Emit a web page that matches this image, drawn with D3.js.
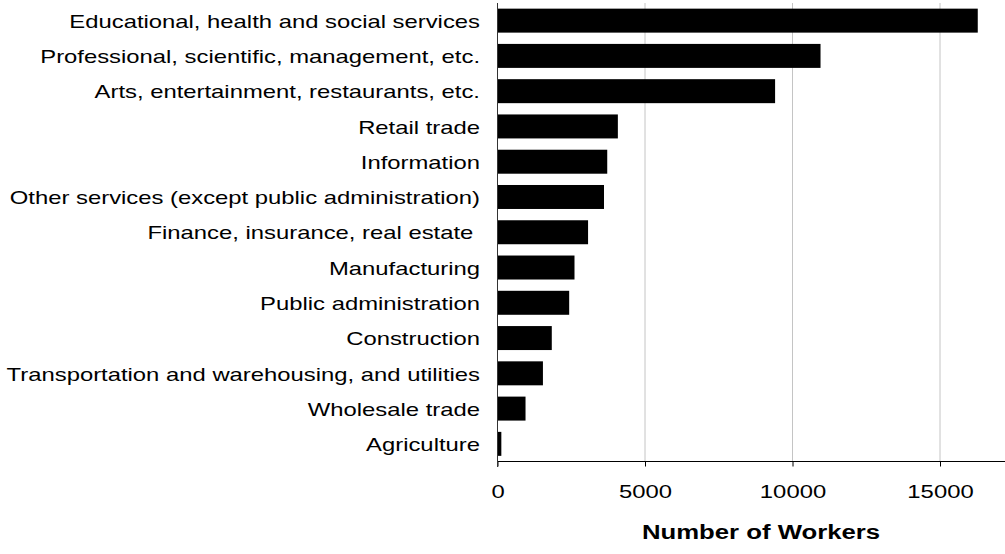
<!DOCTYPE html>
<html>
<head>
<meta charset="utf-8">
<script src="https://cdn.jsdelivr.net/npm/d3@7"></script>
<style>
  html, body { margin: 0; padding: 0; background: #fff; }
  svg { display: block; }
  text { font-family: "Liberation Sans", Arial, sans-serif; fill: #000; white-space: pre; }
</style>
</head>
<body>
<script>
// Workers by industry
const industries = [
  "Educational, health and social services",
  "Professional, scientific, management, etc.",
  "Arts, entertainment, restaurants, etc.",
  "Retail trade",
  "Information",
  "Other services (except public administration)",
  "Finance, insurance, real estate ",
  "Manufacturing",
  "Public administration",
  "Construction",
  "Transportation and warehousing, and utilities",
  "Wholesale trade",
  "Agriculture"
];
const workers = [16280, 10950, 9410, 4080, 3720, 3610, 3070, 2610, 2430, 1840, 1540, 950, 130];
const xTicks = [0, 5000, 10000, 15000];
const xTitle = "Number of Workers";

const W = 1005, H = 554;
const plotLeft = 497.5, plotTop = 3, plotBottom = 461.5;
const stretch = 1.255; // horizontal text widening

const svg = d3.select("body").append("svg")
  .attr("width", W).attr("height", H);

const x = d3.scaleLinear().domain([0, 17000]).range([plotLeft, 999]);
const y = d3.scaleBand().domain(industries).range([plotTop, plotBottom])
  .paddingInner(0.32).paddingOuter(0.16);

const data = industries.map((name, i) => ({ name, value: workers[i] }));

// vertical gridlines
svg.append("g")
  .selectAll("line")
  .data(xTicks.filter(t => t > 0))
  .join("line")
  .attr("x1", d => x(d)).attr("x2", d => x(d))
  .attr("y1", plotTop).attr("y2", plotBottom)
  .attr("stroke", "#c4c4c4").attr("stroke-width", 1);

// bars
svg.append("g")
  .selectAll("rect")
  .data(data)
  .join("rect")
  .attr("x", x(0))
  .attr("y", d => y(d.name))
  .attr("width", d => x(d.value) - x(0))
  .attr("height", y.bandwidth())
  .attr("fill", "#000");

// x axis
const xAxis = svg.append("g")
  .attr("transform", `translate(0,${plotBottom})`)
  .call(d3.axisBottom(x).tickValues(xTicks).tickFormat(d3.format("d"))
    .tickSize(5).tickPadding(18).tickSizeOuter(0));
xAxis.select(".domain").remove();
xAxis.selectAll(".tick line").attr("stroke", "#000");
xAxis.selectAll(".tick text")
  .attr("font-size", 19)
  .attr("font-family", "Liberation Sans, Arial, sans-serif")
  .attr("transform", `scale(${stretch},1)`);
xAxis.append("line")
  .attr("x1", x(0)).attr("x2", W)
  .attr("y1", 0).attr("y2", 0)
  .attr("stroke", "#000");

// y axis
const yAxis = svg.append("g")
  .attr("transform", `translate(${plotLeft},0)`)
  .call(d3.axisLeft(y).tickSize(0).tickSizeOuter(0));
yAxis.select(".domain").remove();
yAxis.selectAll(".tick text")
  .attr("x", null)
  .attr("dy", "0.38em")
  .attr("font-size", 19)
  .attr("font-family", "Liberation Sans, Arial, sans-serif")
  .attr("transform", `translate(-17.5,0) scale(${stretch},1)`);
yAxis.append("line")
  .attr("x1", 0).attr("x2", 0)
  .attr("y1", plotTop).attr("y2", plotBottom + 5.5)
  .attr("stroke", "#333");

// axis title
svg.append("text")
  .attr("transform", `translate(761,538.5) scale(${stretch},1)`)
  .attr("text-anchor", "middle")
  .attr("font-size", 20.5)
  .attr("font-weight", "bold")
  .text(xTitle);
</script>
</body>
</html>
